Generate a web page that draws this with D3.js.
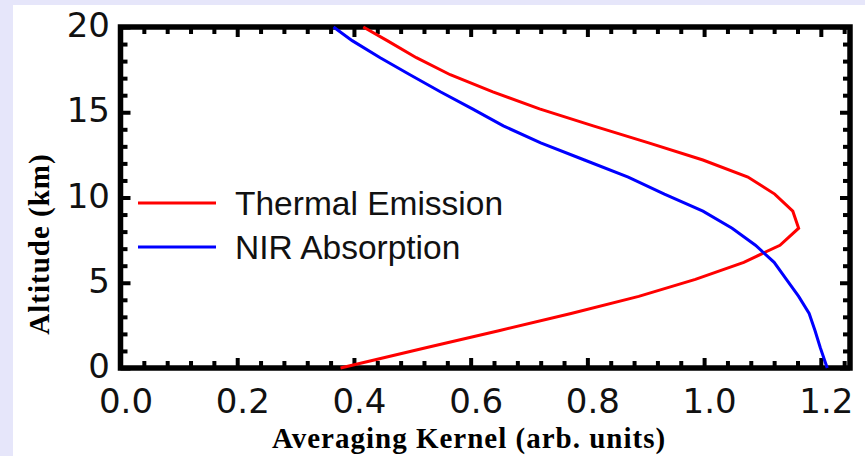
<!DOCTYPE html>
<html>
<head>
<meta charset="utf-8">
<script src="https://cdn.jsdelivr.net/npm/d3@7"></script>
<style>
  body { margin: 0; background: #e6e6fa; }
  svg { display: block; }
</style>
</head>
<body>
<div id="chart"></div>
<script>
// altitude grid (km) shared by both kernels
const altitude = [0, 1.2, 2.2, 3.2, 4.2, 5.2, 6.2, 7.2, 8.2, 9.2, 10.2, 11.2, 12.2, 13.2, 14.2, 15.2, 16.2, 17.2, 18.2, 19.2, 20];
// averaging kernel values
const thermalEmission = [0.377, 0.525, 0.65, 0.772, 0.888, 0.985, 1.068, 1.13, 1.162, 1.152, 1.121,
                         1.075, 0.998, 0.905, 0.81, 0.718, 0.638, 0.565, 0.507, 0.457, 0.416];
const nirAbsorption = [1.211, 1.199, 1.19, 1.18, 1.162, 1.141, 1.12, 1.088, 1.048, 0.998, 0.932,
                       0.87, 0.795, 0.72, 0.656, 0.603, 0.548, 0.496, 0.445, 0.397, 0.365];
const xMajor = [0.0, 0.2, 0.4, 0.6, 0.8, 1.0, 1.2];
const yMajor = [0, 5, 10, 15, 20];
const seriesNames = ["Thermal Emission", "NIR Absorption"];
const seriesColors = ["#ff0000", "#0000ff"];

const W = 865, H = 456;
const svg = d3.select("#chart").append("svg")
              .attr("width", W)
              .attr("height", H);

// white panel on lavender page
svg.append("rect")
   .attr("x", 13).attr("y", 5)
   .attr("width", W - 13).attr("height", H - 5)
   .attr("fill", "#ffffff");

const x = d3.scaleLinear().domain([0, 1.25]).range([120.5, 850]);
const y = d3.scaleLinear().domain([0, 20]).range([368, 27]);

const xMinor = d3.range(0, 1.25, 0.04).filter(v => Math.abs(v / 0.2 - Math.round(v / 0.2)) > 1e-6);
const yMinor = d3.range(0, 21, 1).filter(v => v % 5 !== 0);

function tickAxis(axisFn, scale, values, size, transform){
    const g = svg.append("g")
                 .attr("transform", transform)
                 .call(axisFn(scale).tickValues(values).tickSizeInner(-size).tickSizeOuter(0).tickFormat(""));
    g.select(".domain").remove();
    g.selectAll("line").attr("stroke", "#000").attr("stroke-width", 4);
    g.selectAll("text").remove();
    return g;
}

// ticks pointing inward on all four sides
tickAxis(d3.axisBottom, x, xMinor, 7, `translate(0,${y(0)})`);
tickAxis(d3.axisBottom, x, xMajor, 10, `translate(0,${y(0)})`);
tickAxis(d3.axisTop, x, xMinor, 7, `translate(0,${y(20)})`);
tickAxis(d3.axisTop, x, xMajor, 10, `translate(0,${y(20)})`);
tickAxis(d3.axisLeft, y, yMinor, 7, `translate(${x(0)},0)`);
tickAxis(d3.axisLeft, y, yMajor, 10, `translate(${x(0)},0)`);
tickAxis(d3.axisRight, y, yMinor, 7, `translate(${x(1.25)},0)`);
tickAxis(d3.axisRight, y, yMajor, 10, `translate(${x(1.25)},0)`);

// frame
svg.append("rect")
   .attr("x", x(0)).attr("y", y(20))
   .attr("width", x(1.25) - x(0)).attr("height", y(0) - y(20))
   .attr("fill", "none")
   .attr("stroke", "#000")
   .attr("stroke-width", 5.5);

// tick labels
const xLab = svg.append("g")
                .attr("transform", `translate(0,${y(0)})`)
                .call(d3.axisBottom(x).tickValues(xMajor).tickSize(0).tickPadding(21).tickFormat(d3.format(".1f")));
xLab.select(".domain").remove();
xLab.selectAll("text")
    .attr("dx", 5)
    .style("font-family", "'DejaVu Sans', sans-serif")
    .style("font-size", "34px")
    .attr("fill", "#111");

const yLab = svg.append("g")
                .attr("transform", `translate(${x(0)},0)`)
                .call(d3.axisLeft(y).tickValues(yMajor).tickSize(0).tickPadding(10.5).tickFormat(d3.format("d")));
yLab.select(".domain").remove();
yLab.selectAll("text")
    .attr("dy", "0.28em")
    .style("font-family", "'DejaVu Sans', sans-serif")
    .style("font-size", "34px")
    .attr("fill", "#111");

// axis titles
svg.append("text")
   .attr("x", 469).attr("y", 448)
   .attr("text-anchor", "middle")
   .style("font-family", "'Liberation Serif', 'Times New Roman', serif")
   .style("font-weight", "bold")
   .style("font-size", "29px")
   .style("letter-spacing", "1px")
   .text("Averaging Kernel (arb. units)");

svg.append("text")
   .attr("transform", "translate(49,244) rotate(-90)")
   .attr("text-anchor", "middle")
   .style("font-family", "'Liberation Serif', 'Times New Roman', serif")
   .style("font-weight", "bold")
   .style("font-size", "29px")
   .style("letter-spacing", "1px")
   .text("Altitude (km)");

// kernel curves
const series = [thermalEmission, nirAbsorption];
const line = d3.line()
               .x(d => x(d[0]))
               .y(d => y(d[1]));

svg.selectAll("path.kernel")
   .data(series)
   .enter()
   .append("path")
   .attr("class", "kernel")
   .attr("d", vals => line(vals.map((v, i) => [v, altitude[i]])))
   .attr("fill", "none")
   .attr("stroke", (d, i) => seriesColors[i])
   .attr("stroke-width", 3);

// legend
const legend = svg.append("g");
const legendY = [203, 247];
legend.selectAll("line")
      .data(seriesNames)
      .enter()
      .append("line")
      .attr("x1", 138).attr("x2", 216)
      .attr("y1", (d, i) => legendY[i]).attr("y2", (d, i) => legendY[i])
      .attr("stroke", (d, i) => seriesColors[i])
      .attr("stroke-width", 3);
legend.selectAll("text")
      .data(seriesNames)
      .enter()
      .append("text")
      .attr("x", 235)
      .attr("y", (d, i) => legendY[i] + 12)
      .style("font-family", "'Liberation Sans', Arial, sans-serif")
      .style("font-size", "33.5px")
      .attr("fill", "#111")
      .text(d => d);
</script>
</body>
</html>
